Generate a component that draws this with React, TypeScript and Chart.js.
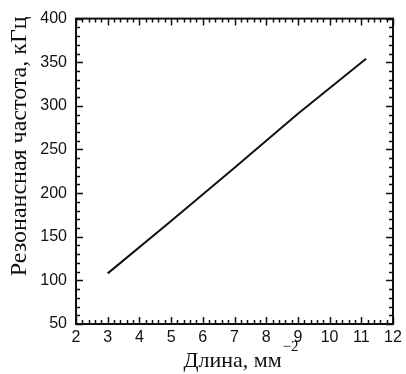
import React, { useEffect, useRef } from "react";
import { Chart, registerables } from "chart.js";

Chart.register(...registerables);

const lengthValues = [3, 5, 7, 9, 11.15];
const frequencyValues = [108, 168, 229, 291, 354];
const xTitle = "Длина, мм";
const xTitleSup = "−2";
const yTitle = "Резонансная частота, кГц";
const xMin = 2, xMax = 12, xMinorStep = 0.2;
const yMin = 50, yMax = 400, yMajorStep = 50, yMinorStep = 10;

const tickPlugin = {
  id: "inwardTicks",
  afterDatasetsDraw(chart: any) {
    const { ctx, chartArea, scales } = chart;
    const xs = scales.x, ys = scales.y;
    ctx.save();
    ctx.strokeStyle = "#111";
    ctx.lineWidth = 1.5;
    ctx.beginPath();
    const nx = Math.round((xMax - xMin) / xMinorStep);
    for (let i = 0; i <= nx; i++) {
      const v = xMin + i * xMinorStep;
      const px = Math.round(xs.getPixelForValue(v)) + 0.5;
      const major = i % 5 === 0;
      const len = major ? 7 : 4;
      ctx.moveTo(px, chartArea.bottom);
      ctx.lineTo(px, chartArea.bottom - len);
      ctx.moveTo(px, chartArea.top);
      ctx.lineTo(px, chartArea.top + len);
    }
    const ny = Math.round((yMax - yMin) / yMinorStep);
    const per = yMajorStep / yMinorStep;
    for (let i = 0; i <= ny; i++) {
      const v = yMin + i * yMinorStep;
      const py = Math.round(ys.getPixelForValue(v)) + 0.5;
      const major = i % per === 0;
      const len = major ? 7 : 4;
      ctx.moveTo(chartArea.left, py);
      ctx.lineTo(chartArea.left + len, py);
      ctx.moveTo(chartArea.right, py);
      ctx.lineTo(chartArea.right - len, py);
    }
    ctx.stroke();
    ctx.lineWidth = 2;
    ctx.strokeRect(chartArea.left, chartArea.top, chartArea.right - chartArea.left, chartArea.bottom - chartArea.top);

    ctx.fillStyle = "#111";
    ctx.font = "22px 'Liberation Serif'";
    ctx.textBaseline = "alphabetic";
    ctx.textAlign = "left";
    const mainW = ctx.measureText(xTitle).width;
    ctx.font = "15px 'Liberation Serif'";
    const supW = ctx.measureText(xTitleSup).width;
    const cx = (chartArea.left + chartArea.right) / 2 + 6;
    const startX = cx - (mainW + supW) / 2;
    const baseY = chartArea.bottom + 43;
    ctx.font = "22px 'Liberation Serif'";
    ctx.fillText(xTitle, startX, baseY);
    ctx.font = "15px 'Liberation Serif'";
    ctx.fillText(xTitleSup, startX + mainW + 1, baseY - 16);
    ctx.save();
    ctx.translate(20, (chartArea.top + chartArea.bottom) / 2 - 25);
    ctx.rotate(-Math.PI / 2);
    ctx.font = "24px 'Liberation Serif'";
    ctx.textAlign = "center";
    ctx.textBaseline = "middle";
    ctx.fillText(yTitle, 0, 0);
    ctx.restore();
    ctx.restore();
  },
};

export default function App() {
  const ref = useRef<HTMLCanvasElement>(null);
  useEffect(() => {
    if (!ref.current) return;
    const chart = new Chart(ref.current, {
      type: "line",
      data: {
        datasets: [
          {
            data: lengthValues.map((x, i) => ({ x, y: frequencyValues[i] })),
            borderColor: "#111",
            borderWidth: 2,
            pointRadius: 0,
            tension: 0,
          },
        ],
      },
      options: {
        animation: false,
        responsive: true,
        maintainAspectRatio: false,
        layout: { padding: { left: 0, top: 18, right: 13, bottom: 0 } },
        plugins: { legend: { display: false }, tooltip: { enabled: false } },
        scales: {
          x: {
            type: "linear",
            min: xMin,
            max: xMax,
            grid: { display: false, drawTicks: false },
            border: { display: false },
            ticks: {
              stepSize: 1,
              color: "#111",
              padding: 4,
              font: { family: "Liberation Sans", size: 16 },
            },
            afterFit: (s: any) => { s.height = 50; },
          },
          y: {
            type: "linear",
            min: yMin,
            max: yMax,
            grid: { display: false, drawTicks: false },
            border: { display: false },
            ticks: {
              stepSize: yMajorStep,
              color: "#111",
              padding: 9,
              font: { family: "Liberation Sans", size: 16 },
            },
            afterFit: (s: any) => { s.width = 76; },
          },
        },
      },
      plugins: [tickPlugin],
    });
    return () => chart.destroy();
  }, []);
  return (
    <div style={{ position: "fixed", left: 0, top: 0, width: 406, height: 374, background: "#fff" }}>
      <canvas ref={ref} />
    </div>
  );
}
